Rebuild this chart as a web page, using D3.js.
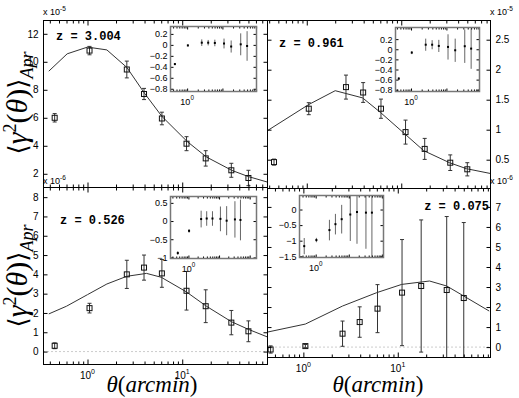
<!DOCTYPE html>
<html>
<head>
<meta charset="utf-8">
<script src="https://cdn.jsdelivr.net/npm/d3@7"></script>
<style>
  body { margin: 0; background: #fff; }
</style>
</head>
<body>
<svg id="chart" width="519" height="398" font-family="Liberation Sans, Arial, sans-serif"></svg>
<script>
// angular bins (arcmin), shared by all four redshift slices
var THETA = [0.45, 1.05, 2.6, 3.95, 6.1, 11.1, 17.7, 33, 50];
var Z_LABELS = ["3.004", "0.961", "0.526", "0.075"];

// z = 3.004  (units 1e-5)
var SIG_Z3 = [6.0, 10.8, 9.45, 7.7, 5.95, 4.15, 3.1, 2.25, 1.7];
var ERR_Z3 = [0.3, 0.3, 0.6, 0.4, 0.45, 0.5, 0.55, 0.5, 0.55];
var MODEL_TH_Z3 = [0.39, 0.61, 1.0, 1.6, 2.6, 4, 6.1, 11.3, 18, 33.5, 50, 80];
var MODEL_Z3 = [9.33, 10.57, 11.05, 10.85, 9.6, 7.75, 6.1, 4.3, 3.2, 2.24, 1.8, 1.4];
var INSET_Z3 = [-0.35, -0.01, 0.04, 0.04, 0.035, 0.025, -0.03, 0.01, -0.02];
var INSET_ERR_Z3 = [0.02, 0.02, 0.06, 0.05, 0.06, 0.09, 0.11, 0.2, 0.27];

// z = 0.961  (units 1e-5)
var SIG_Z1 = [0.46, 1.35, 1.71, 1.62, 1.35, 0.96, 0.68, 0.45, 0.34];
var ERR_Z1 = [0.05, 0.1, 0.2, 0.165, 0.16, 0.2, 0.175, 0.13, 0.11];
var MODEL_TH_Z1 = [0.384, 1.05, 2.0, 3.9, 6.0, 10.9, 17.3, 32.4, 49, 88];
var MODEL_Z1 = [0.985, 1.42, 1.65, 1.53, 1.29, 0.93, 0.65, 0.45, 0.35, 0.27];
var INSET_Z1 = [-0.58, -0.066, 0.09, 0.09, 0.066, 0.046, -0.02, 0.06, 0.013];
var INSET_ERR_Z1 = [0.03, 0.03, 0.12, 0.09, 0.12, 0.25, 0.23, 0.33, 0.4];

// z = 0.526  (units 1e-6)
var SIG_Z05 = [0.3, 2.25, 4.0, 4.35, 4.05, 3.15, 2.35, 1.5, 1.05];
var ERR_Z05 = [0.15, 0.25, 0.73, 0.65, 0.72, 1.0, 0.85, 0.63, 0.54];
var MODEL_TH_Z05 = [0.39, 0.6, 1.0, 1.6, 2.6, 4.2, 6, 11, 18, 33, 50, 80];
var MODEL_Z05 = [1.95, 2.35, 2.95, 3.5, 3.9, 4.05, 3.85, 3.1, 2.35, 1.55, 1.15, 0.75];
var INSET_Z05 = [-0.88, -0.27, 0.055, 0.07, 0.07, 0.06, 0.01, 0.045, 0.03];
var INSET_ERR_Z05 = [0.05, 0.05, 0.23, 0.2, 0.2, 0.34, 0.4, 0.5, 0.56];

// z = 0.075  (units 1e-6)
var SIG_Z0 = [-0.12, 0.05, 0.67, 1.25, 1.92, 2.72, 3.05, 2.85, 2.45];
var ERR_Z0 = [0.18, 0.08, 0.63, 0.76, 1.2, 2.65, 3.3, 3.67, 3.77];
var MODEL_TH_Z0 = [0.417, 1.05, 2.6, 6, 11, 21.7, 33, 50, 93];
var MODEL_Z0 = [0.75, 1.15, 2.05, 2.72, 3.13, 3.3, 3.05, 2.55, 1.8];
var INSET_Z0 = [-1.175, -0.98, -0.66, -0.47, -0.31, -0.16, -0.08, -0.1, -0.1];
var INSET_ERR_Z0 = [0.26, 0.07, 0.33, 0.33, 0.46, 0.85, 1.02, 1.16, 1.5];

// tick values
var YTICKS_Z3 = [2, 4, 6, 8, 10, 12];
var YTICKS_Z1 = [0.5, 1, 1.5, 2, 2.5];
var YTICKS_Z05 = [0, 1, 2, 3, 4, 5, 6, 7, 8];
var YTICKS_Z0 = [0, 1, 2, 3, 4, 5, 6, 7];
var INSET_TICKS_A = [0.2, 0, -0.2, -0.4, -0.6, -0.8];
var INSET_TICKS_B = [0.5, 0, -0.5, -1];
var INSET_TICKS_C = [0, -0.5, -1, -1.5];
var MAIN_XLABELS = [1, 10];
var INSET_XLABELS = [1];

var panels = [
	{ z: Z_LABELS[0], sig: SIG_Z3, err: ERR_Z3, mth: MODEL_TH_Z3, model: MODEL_Z3,
	  x0: 43.5, x1: 267.5, y0: 20.5, y1: 187.5, xdom: [0.343, 79.5], ydom: [1.02, 12.95],
	  yticks: YTICKS_Z3, side: "left", xlab: false, exp: "-5", expX: 43, expY: 15,
	  zx: 56, zy: 40, zAnchor: "start",
	  inset: { x0: 170.5, x1: 256.5, y0: 26.5, y1: 91.5, xdom: [0.338, 92.4], ydom: [-0.85, 0.335],
	           ticks: INSET_TICKS_A, v: INSET_Z3, e: INSET_ERR_Z3 } },
	{ z: Z_LABELS[1], sig: SIG_Z1, err: ERR_Z1, mth: MODEL_TH_Z1, model: MODEL_Z1,
	  x0: 267.5, x1: 490.5, y0: 20.5, y1: 188.5, xdom: [0.384, 88], ydom: [0.02, 2.82],
	  yticks: YTICKS_Z1, side: "right", xlab: false, exp: "-5", expX: 490, expY: 15,
	  zx: 279, zy: 46.5, zAnchor: "start",
	  inset: { x0: 395.5, x1: 479.5, y0: 27.5, y1: 91.5, xdom: [0.364, 86.1], ydom: [-0.835, 0.43],
	           ticks: INSET_TICKS_A, v: INSET_Z1, e: INSET_ERR_Z1 } },
	{ z: Z_LABELS[2], sig: SIG_Z05, err: ERR_Z05, mth: MODEL_TH_Z05, model: MODEL_Z05,
	  x0: 43.5, x1: 267.5, y0: 187.5, y1: 364.5, xdom: [0.343, 79.5], ydom: [-0.67, 8.5],
	  yticks: YTICKS_Z05, side: "left", xlab: true, exp: "-6", expX: 43, expY: 184,
	  zx: 60, zy: 223.5, zAnchor: "start",
	  inset: { x0: 170.5, x1: 256.5, y0: 196.5, y1: 258.5, xdom: [0.26, 167], ydom: [-1.03, 0.675],
	           ticks: INSET_TICKS_B, v: INSET_Z05, e: INSET_ERR_Z05 } },
	{ z: Z_LABELS[3], sig: SIG_Z0, err: ERR_Z0, mth: MODEL_TH_Z0, model: MODEL_Z0,
	  x0: 267.5, x1: 490.5, y0: 188.5, y1: 357.5, xdom: [0.417, 96], ydom: [-0.52, 7.92],
	  yticks: YTICKS_Z0, side: "right", xlab: true, exp: "-6", expX: 490, expY: 184,
	  zx: 489, zy: 210, zAnchor: "end",
	  inset: { x0: 299.5, x1: 383.5, y0: 195.5, y1: 257.5, xdom: [0.324, 112], ydom: [-1.54, 0.45],
	           ticks: INSET_TICKS_C, v: INSET_Z0, e: INSET_ERR_Z0 } }
];

var svg = d3.select("#chart");

// log decade ticks inside a domain
function logTicks(dom) {
	var major = [], minor = [];
	for (var k = -2; k <= 3; k++) {
		var b = Math.pow(10, k);
		if (b >= dom[0] && b <= dom[1]) major.push(b);
		for (var m = 2; m <= 9; m++) {
			if (m * b >= dom[0] && m * b <= dom[1]) minor.push(m * b);
		}
	}
	return { major: major, minor: minor };
}

function fmt(v) {
	return (v < 0 ? "\u2212" : "") + Math.abs(v);
}

function drawFrameAxes(g, x, y, b, opt) {
	var lt = logTicks(x.domain());
	// x ticks on bottom and top
	g.append("g").attr("transform", "translate(0," + b.y1 + ")")
		.call(d3.axisBottom(x).tickValues(lt.major).tickSize(-opt.major).tickFormat(""));
	g.append("g").attr("transform", "translate(0," + b.y1 + ")")
		.call(d3.axisBottom(x).tickValues(lt.minor).tickSize(-opt.minor).tickFormat(""));
	g.append("g").attr("transform", "translate(0," + b.y0 + ")")
		.call(d3.axisTop(x).tickValues(lt.major).tickSize(-opt.major).tickFormat(""));
	g.append("g").attr("transform", "translate(0," + b.y0 + ")")
		.call(d3.axisTop(x).tickValues(lt.minor).tickSize(-opt.minor).tickFormat(""));
	// power-of-ten labels under the frame
	if (opt.xlabels) {
		opt.xlabels.forEach(function(v) {
			var t = g.append("text").attr("x", x(v)).attr("y", b.y1 + opt.pad)
				.attr("text-anchor", "middle").attr("font-size", opt.fs).text("10");
			t.append("tspan").attr("dy", -opt.fs * 0.45).attr("font-size", opt.fs * 0.7)
				.text(Math.round(Math.log10(v)));
		});
	}
	// y ticks on both sides
	var left = g.append("g").attr("transform", "translate(" + b.x0 + ",0)")
		.call(d3.axisLeft(y).tickValues(opt.yticks).tickSize(-opt.ytick).tickPadding(opt.ypad).tickFormat(fmt));
	var right = g.append("g").attr("transform", "translate(" + b.x1 + ",0)")
		.call(d3.axisRight(y).tickValues(opt.yticks).tickSize(-opt.ytick).tickPadding(opt.ypad).tickFormat(fmt));
	if (opt.side === "left") right.selectAll(".tick text").remove();
	else left.selectAll(".tick text").remove();
	g.selectAll(".domain").remove();
	g.selectAll(".tick line").attr("stroke", "#000");
	g.selectAll(".tick text").attr("font-family", "Liberation Sans, Arial, sans-serif")
		.attr("font-size", opt.fs).attr("fill", "#000");
}

panels.forEach(function(p, i) {
	var x = d3.scaleLog().domain(p.xdom).range([p.x0, p.x1]);
	var y = d3.scaleLinear().domain(p.ydom).range([p.y1, p.y0]);

	svg.append("clipPath").attr("id", "clip" + i).append("rect")
		.attr("x", p.x0).attr("y", p.y0).attr("width", p.x1 - p.x0).attr("height", p.y1 - p.y0);

	var g = svg.append("g");
	var plot = g.append("g").attr("clip-path", "url(#clip" + i + ")");

	if (p.ydom[0] < 0) {
		plot.append("line")
			.attr("x1", p.x0).attr("x2", p.x1).attr("y1", y(0)).attr("y2", y(0))
			.attr("stroke", "#999").attr("stroke-dasharray", "1,3");
	}

	// model curve
	var curve = p.mth.map(function(t, j) { return [t, p.model[j]]; });
	plot.append("path").datum(curve)
		.attr("d", d3.line().x(function(d) { return x(d[0]); }).y(function(d) { return y(d[1]); }))
		.attr("fill", "none").attr("stroke", "#333").attr("stroke-width", 1);

	var pts = THETA.map(function(t, j) { return { t: t, v: p.sig[j], e: p.err[j] }; });

	// error bars with caps
	var eb = plot.selectAll(".eb").data(pts).enter().append("g").attr("class", "eb")
		.attr("stroke", "#333").attr("stroke-width", 1);
	eb.append("line")
		.attr("x1", function(d) { return x(d.t); }).attr("x2", function(d) { return x(d.t); })
		.attr("y1", function(d) { return y(d.v - d.e); }).attr("y2", function(d) { return y(d.v + d.e); });
	[-1, 1].forEach(function(s) {
		eb.append("line")
			.attr("x1", function(d) { return x(d.t) - 2; }).attr("x2", function(d) { return x(d.t) + 2; })
			.attr("y1", function(d) { return y(d.v + s * d.e); }).attr("y2", function(d) { return y(d.v + s * d.e); });
	});

	// hollow squares
	plot.selectAll(".sq").data(pts).enter().append("rect").attr("class", "sq")
		.attr("x", function(d) { return x(d.t) - 2.5; })
		.attr("y", function(d) { return y(d.v) - 2.5; })
		.attr("width", 5).attr("height", 5)
		.attr("fill", "none").attr("stroke", "#111").attr("stroke-width", 1);

	g.append("rect").attr("x", p.x0).attr("y", p.y0)
		.attr("width", p.x1 - p.x0).attr("height", p.y1 - p.y0)
		.attr("fill", "none").attr("stroke", "#000").attr("stroke-width", 1);

	drawFrameAxes(g, x, y, p, { major: 5, minor: 3, pad: 14, xlabels: p.xlab ? MAIN_XLABELS : null,
		yticks: p.yticks, ytick: 4, ypad: 5, side: p.side, fs: 10 });

	// exponent label
	var ex = g.append("text").attr("x", p.expX).attr("y", p.expY)
		.attr("font-size", 9).text("x 10");
	ex.append("tspan").attr("dy", -4).attr("font-size", 6.5).text(p.exp);

	// redshift label
	g.append("text").attr("x", p.zx).attr("y", p.zy).attr("text-anchor", p.zAnchor)
		.attr("font-family", "Liberation Mono, Courier New, monospace")
		.attr("font-weight", "bold").attr("font-size", 12)
		.attr("xml:space", "preserve")
		.text("z = " + p.z);

	// inset: relative deviation
	var q = p.inset;
	var xi = d3.scaleLog().domain(q.xdom).range([q.x0, q.x1]);
	var yi = d3.scaleLinear().domain(q.ydom).range([q.y1, q.y0]);
	var gi = svg.append("g");
	gi.append("rect").attr("x", q.x0).attr("y", q.y0)
		.attr("width", q.x1 - q.x0).attr("height", q.y1 - q.y0).attr("fill", "#fff");
	svg.append("clipPath").attr("id", "iclip" + i).append("rect")
		.attr("x", q.x0).attr("y", q.y0).attr("width", q.x1 - q.x0).attr("height", q.y1 - q.y0);
	var ip = gi.append("g").attr("clip-path", "url(#iclip" + i + ")");
	var ipts = THETA.map(function(t, j) { return { t: t, v: q.v[j], e: q.e[j] }; });
	ip.selectAll(".ie").data(ipts).enter().append("line")
		.attr("x1", function(d) { return xi(d.t); }).attr("x2", function(d) { return xi(d.t); })
		.attr("y1", function(d) { return yi(d.v - d.e); }).attr("y2", function(d) { return yi(d.v + d.e); })
		.attr("stroke", "#666").attr("stroke-width", 1);
	ip.selectAll(".id").data(ipts).enter().append("rect")
		.attr("x", function(d) { return xi(d.t) - 1; }).attr("y", function(d) { return yi(d.v) - 1; })
		.attr("width", 2).attr("height", 2).attr("fill", "#000");
	drawFrameAxes(gi, xi, yi, q, { major: 3, minor: 2, pad: 13, xlabels: INSET_XLABELS, yticks: q.ticks,
		ytick: 3, ypad: 3, side: "left", fs: 9 });
	gi.append("rect").attr("x", q.x0).attr("y", q.y0)
		.attr("width", q.x1 - q.x0).attr("height", q.y1 - q.y0)
		.attr("fill", "none").attr("stroke", "#777").attr("stroke-width", 1.5);
});

// axis titles
function yTitle(cx, cy) {
	var t = svg.append("text")
		.attr("transform", "translate(" + cx + "," + cy + ") rotate(-90)")
		.attr("text-anchor", "middle")
		.attr("font-family", "Liberation Serif, DejaVu Serif, serif")
		.attr("font-size", 30);
	t.append("tspan").attr("font-family", "DejaVu Serif, serif").attr("font-size", 26).text("\u27e8");
	t.append("tspan").attr("font-style", "italic").text("\u03b3");
	t.append("tspan").attr("dy", -11).attr("font-size", 18).text("2");
	t.append("tspan").attr("dy", 11).text("(");
	t.append("tspan").attr("font-style", "italic").text("\u03b8");
	t.append("tspan").text(")");
	t.append("tspan").attr("font-family", "DejaVu Serif, serif").attr("font-size", 26).text("\u27e9");
	t.append("tspan").attr("dy", 6).attr("font-style", "italic").attr("font-size", 18).text("Apr");
}
yTitle(27, 103);
yTitle(27, 276);

function xTitle(cx) {
	var t = svg.append("text").attr("x", cx).attr("y", 392).attr("text-anchor", "middle")
		.attr("font-family", "Liberation Serif, DejaVu Serif, serif").attr("font-size", 23);
	t.append("tspan").attr("font-style", "italic").text("\u03b8");
	t.append("tspan").text("(");
	t.append("tspan").attr("font-style", "italic").text("arcmin");
	t.append("tspan").text(")");
}
xTitle(152);
xTitle(378);
</script>
</body>
</html>
